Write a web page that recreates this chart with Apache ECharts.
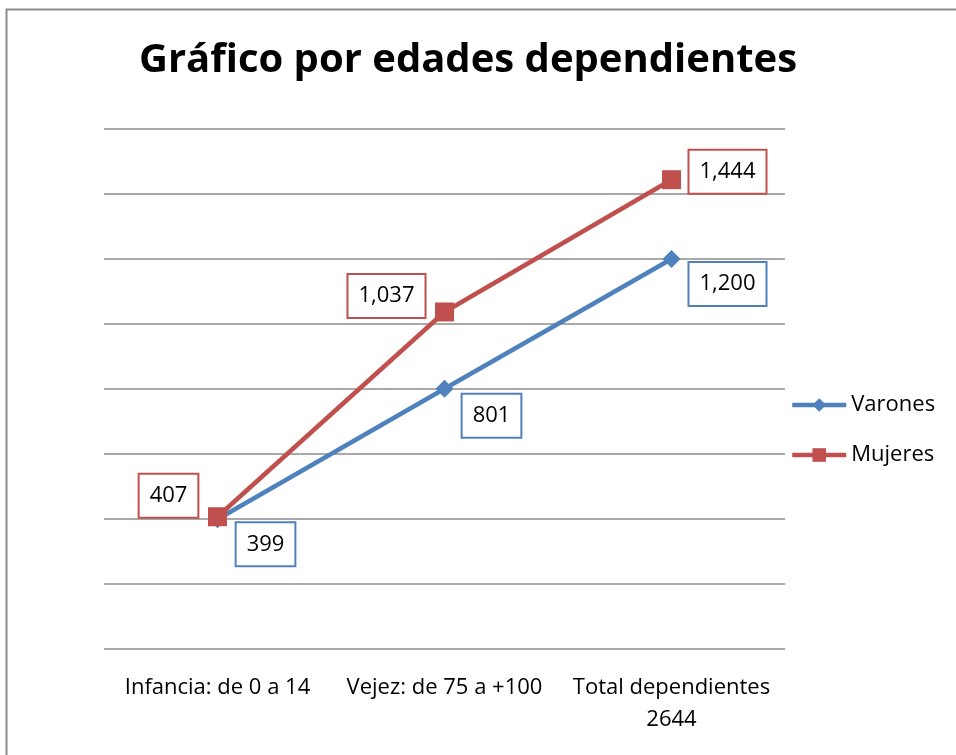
<!DOCTYPE html>
<html>
<head>
<meta charset="utf-8">
<script src="https://cdn.jsdelivr.net/npm/echarts@6/dist/echarts.min.js"></script>
<style>
    html, body { margin: 0; padding: 0; background: #fff; }
    #chart { width: 956px; height: 755px; }
</style>
</head>
<body>
<div id="chart"></div>
<script>
// categorías del eje x
var categorias = ['Infancia: de 0 a 14', 'Vejez: de 75 a +100', 'Total dependientes\n2644'];
// valores por serie
var varones = [399, 801, 1200];
var mujeres = [407, 1037, 1444];
// desplazamiento de las etiquetas respecto al punto
var offVarones = [[48, 25], [47, 27], [56, 25]];
var offMujeres = [[-49, -21], [-58, -16], [56, -8]];

(function () {
    var myChart = echarts.init(document.getElementById('chart'));
    var fuente = 'Open Sans';

    function puntos(valores, offs, color) {
        return valores.map(function (v, i) {
            return {
                value: v,
                label: {
                    show: true,
                    position: 'inside',
                    offset: offs[i],
                    formatter: function (p) { return p.value.toLocaleString('en-US'); },
                    color: '#000',
                    fontFamily: fuente,
                    fontSize: 22,
                    lineHeight: 26,
                    backgroundColor: '#fff',
                    borderColor: color,
                    borderWidth: 2,
                    padding: [8, 10]
                }
            };
        });
    }

    var option = {
        animation: false,
        backgroundColor: '#fff',
        title: {
            text: 'Gráfico por edades dependientes',
            left: 463,
            textAlign: 'center',
            top: 36,
            textStyle: { fontFamily: fuente, fontWeight: 'bold', fontSize: 40, color: '#000' }
        },
        graphic: [{
            type: 'rect',
            shape: { x: 6.5, y: 9.5, width: 1000, height: 1000 },
            style: { fill: 'none', stroke: '#8c8c8c', lineWidth: 2 },
            silent: true
        }],
        legend: {
            orient: 'vertical',
            left: 785,
            top: 389,
            itemWidth: 54,
            itemHeight: 17,
            itemGap: 28,
            lineStyle: { width: 4.5 },
            textStyle: { fontFamily: fuente, fontSize: 22, color: '#000' },
            data: ['Varones', 'Mujeres']
        },
        grid: { left: 104, right: 171, top: 129, bottom: 106 },
        xAxis: {
            type: 'category',
            data: categorias,
            boundaryGap: true,
            axisLine: { show: false },
            axisTick: { show: false },
            axisLabel: {
                interval: 0,
                margin: 23,
                fontFamily: fuente,
                fontSize: 22,
                lineHeight: 32,
                color: '#000'
            }
        },
        yAxis: {
            type: 'value',
            min: 0,
            max: 1600,
            interval: 200,
            axisLabel: { show: false },
            axisLine: { show: false },
            axisTick: { show: false },
            splitLine: { lineStyle: { color: '#8c8c8c', width: 1.5 } }
        },
        series: [
            {
                name: 'Varones',
                type: 'line',
                data: puntos(varones, offVarones, '#4f81bd'),
                symbol: 'diamond',
                symbolSize: 18,
                color: '#4f81bd',
                lineStyle: { width: 4.5, color: '#4f81bd' },
                itemStyle: { color: '#4f81bd' },
                z: 2
            },
            {
                name: 'Mujeres',
                type: 'line',
                data: puntos(mujeres, offMujeres, '#c0504d'),
                symbol: 'rect',
                symbolSize: 19,
                color: '#c0504d',
                lineStyle: { width: 4.5, color: '#c0504d' },
                itemStyle: { color: '#c0504d' },
                z: 3
            }
        ]
    };

    myChart.setOption(option);

    window.addEventListener('resize', function () {
        myChart.resize();
    });
})();
</script>
</body>
</html>
